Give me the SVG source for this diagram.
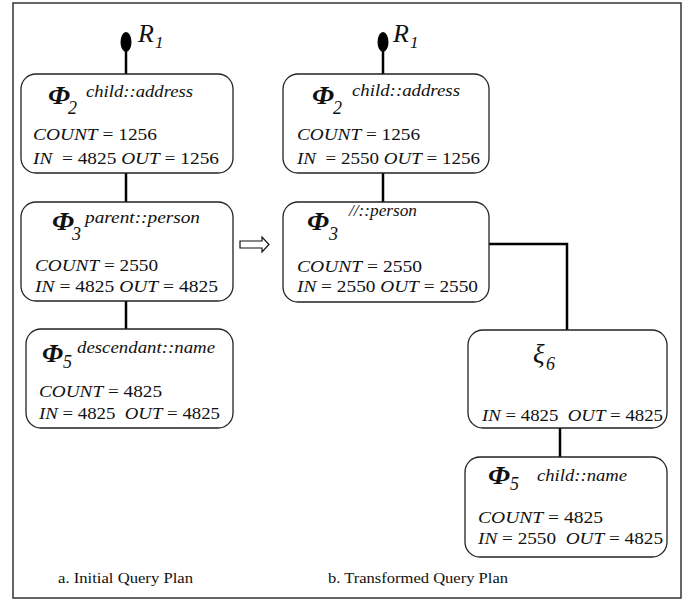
<svg xmlns="http://www.w3.org/2000/svg" width="699" height="602" viewBox="0 0 699 602">
  <style>
    .frame { fill: #fff; stroke: #333; stroke-width: 1.5; }
    .node { fill: #fff; stroke: #222; stroke-width: 1.3; }
    .wire { fill: none; stroke: #000; stroke-width: 2.5; }
    text { font-family: "Liberation Serif", "Times New Roman", serif; fill: #111; }
    .op { font-size: 25px; font-style: italic; font-weight: bold; }
    .xi { font-size: 27px; font-style: italic; }
    .sub { font-size: 18px; font-style: italic; }
    .axis { font-size: 16px; font-style: italic; }
    .stat { font-size: 17px; white-space: pre; }
    .v { font-style: italic; }
    .root { font-size: 26px; font-style: italic; }
    .rsub { font-size: 17px; font-style: italic; }
    .cap { font-size: 15px; }
  </style>

  <rect class="frame" x="13" y="3" width="668" height="595"/>

  <!-- connectors -->
  <g id="connectors">
    <line class="wire" x1="126" y1="48" x2="126" y2="74"/>
    <line class="wire" x1="126" y1="173" x2="126" y2="202"/>
    <line class="wire" x1="126" y1="301" x2="126" y2="329"/>
    <line class="wire" x1="383" y1="48" x2="383" y2="74"/>
    <line class="wire" x1="383" y1="173" x2="383" y2="202"/>
    <polyline class="wire" points="489,244 567,244 567,330"/>
    <line class="wire" x1="560" y1="428" x2="560" y2="457"/>
    <!-- transformation arrow -->
    <path d="M240,241 L262,241 L262,237 L269,244.5 L262,252 L262,248 L240,248 Z" fill="#fff" stroke="#111" stroke-width="1.2"/>
  </g>

  <!-- roots -->
  <g id="root-a">
    <ellipse cx="126" cy="42" rx="5.5" ry="10" fill="#000"/>
    <text class="root" x="138" y="42">R</text>
    <text class="rsub" x="155" y="48">1</text>
  </g>
  <g id="root-b">
    <ellipse cx="383" cy="42" rx="5.5" ry="10" fill="#000"/>
    <text class="root" x="393" y="42">R</text>
    <text class="rsub" x="410" y="48">1</text>
  </g>

  <!-- a. initial plan -->
  <g id="a-phi2">
    <rect class="node" x="21" y="74" width="212" height="99" rx="15"/>
    <text class="op" x="48" y="104" textLength="22" lengthAdjust="spacingAndGlyphs">Φ</text>
    <text class="sub" x="68" y="114">2</text>
    <text class="axis" x="86" y="97" textLength="107" lengthAdjust="spacingAndGlyphs">child::address</text>
    <text class="stat" x="33" y="140" textLength="124" lengthAdjust="spacingAndGlyphs"><tspan class="v">COUNT</tspan> = 1256</text>
    <text class="stat" x="33" y="164" textLength="186" lengthAdjust="spacingAndGlyphs"><tspan class="v">IN</tspan>  = 4825 <tspan class="v">OUT</tspan> = 1256</text>
  </g>
  <g id="a-phi3">
    <rect class="node" x="21" y="202" width="212" height="99" rx="15"/>
    <text class="op" x="52" y="230" textLength="22" lengthAdjust="spacingAndGlyphs">Φ</text>
    <text class="sub" x="72" y="240">3</text>
    <text class="axis" x="85" y="223" textLength="115" lengthAdjust="spacingAndGlyphs">parent::person</text>
    <text class="stat" x="35" y="271" textLength="123" lengthAdjust="spacingAndGlyphs"><tspan class="v">COUNT</tspan> = 2550</text>
    <text class="stat" x="35" y="292" textLength="183" lengthAdjust="spacingAndGlyphs"><tspan class="v">IN</tspan> = 4825 <tspan class="v">OUT</tspan> = 4825</text>
  </g>
  <g id="a-phi5">
    <rect class="node" x="26" y="329" width="207" height="99" rx="15"/>
    <text class="op" x="42" y="362" textLength="21" lengthAdjust="spacingAndGlyphs">Φ</text>
    <text class="sub" x="63" y="368">5</text>
    <text class="axis" x="77" y="353" textLength="138" lengthAdjust="spacingAndGlyphs">descendant::name</text>
    <text class="stat" x="39" y="397" textLength="123" lengthAdjust="spacingAndGlyphs"><tspan class="v">COUNT</tspan> = 4825</text>
    <text class="stat" x="39" y="419" textLength="181" lengthAdjust="spacingAndGlyphs"><tspan class="v">IN</tspan> = 4825  <tspan class="v">OUT</tspan> = 4825</text>
  </g>

  <!-- b. transformed plan -->
  <g id="b-phi2">
    <rect class="node" x="283" y="74" width="206" height="99" rx="15"/>
    <text class="op" x="312" y="104" textLength="22" lengthAdjust="spacingAndGlyphs">Φ</text>
    <text class="sub" x="333" y="114">2</text>
    <text class="axis" x="352" y="96" textLength="108" lengthAdjust="spacingAndGlyphs">child::address</text>
    <text class="stat" x="297" y="140" textLength="123" lengthAdjust="spacingAndGlyphs"><tspan class="v">COUNT</tspan> = 1256</text>
    <text class="stat" x="297" y="164" textLength="183" lengthAdjust="spacingAndGlyphs"><tspan class="v">IN</tspan>  = 2550 <tspan class="v">OUT</tspan> = 1256</text>
  </g>
  <g id="b-phi3">
    <rect class="node" x="283" y="202" width="206" height="100" rx="15"/>
    <text class="op" x="307" y="230" textLength="22" lengthAdjust="spacingAndGlyphs">Φ</text>
    <text class="sub" x="329" y="240">3</text>
    <text class="axis" x="349" y="216" textLength="68" lengthAdjust="spacingAndGlyphs">//::person</text>
    <text class="stat" x="297" y="272" textLength="125" lengthAdjust="spacingAndGlyphs"><tspan class="v">COUNT</tspan> = 2550</text>
    <text class="stat" x="297" y="292" textLength="181" lengthAdjust="spacingAndGlyphs"><tspan class="v">IN</tspan> = 2550 <tspan class="v">OUT</tspan> = 2550</text>
  </g>
  <g id="b-xi6">
    <rect class="node" x="468" y="330" width="199" height="98" rx="15"/>
    <text class="xi" x="533" y="363">ξ</text>
    <text class="sub" x="546" y="370">6</text>
    <text class="stat" x="482" y="421" textLength="181" lengthAdjust="spacingAndGlyphs"><tspan class="v">IN</tspan> = 4825  <tspan class="v">OUT</tspan> = 4825</text>
  </g>
  <g id="b-phi5">
    <rect class="node" x="465" y="457" width="202" height="100" rx="15"/>
    <text class="op" x="488" y="484" textLength="22" lengthAdjust="spacingAndGlyphs">Φ</text>
    <text class="sub" x="510" y="490">5</text>
    <text class="axis" x="537" y="481" textLength="90" lengthAdjust="spacingAndGlyphs">child::name</text>
    <text class="stat" x="478" y="523" textLength="125" lengthAdjust="spacingAndGlyphs"><tspan class="v">COUNT</tspan> = 4825</text>
    <text class="stat" x="478" y="544" textLength="185" lengthAdjust="spacingAndGlyphs"><tspan class="v">IN</tspan> = 2550  <tspan class="v">OUT</tspan> = 4825</text>
  </g>

  <!-- captions -->
  <text class="cap" x="58" y="583" textLength="135" lengthAdjust="spacingAndGlyphs">a. Initial Query Plan</text>
  <text class="cap" x="328" y="583" textLength="180" lengthAdjust="spacingAndGlyphs">b. Transformed Query Plan</text>
</svg>
